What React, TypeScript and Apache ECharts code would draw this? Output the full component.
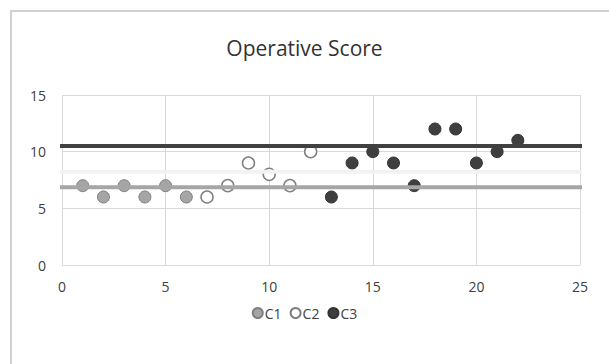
import React, { useEffect, useRef } from "react";
import * as echarts from "echarts";

const c1Data: [number, number][] = [[1, 7], [2, 6], [3, 7], [4, 6], [5, 7], [6, 6]];
const c2Data: [number, number][] = [[7, 6], [8, 7], [9, 9], [10, 8], [11, 7], [12, 10]];
const c3Data: [number, number][] = [[13, 6], [14, 9], [15, 10], [16, 9], [17, 7], [18, 12], [19, 12], [20, 9], [21, 10], [22, 11]];
const refLevels = { c3: 10.5, c2: 8.23, c1: 6.86 };
const refSpan = [-0.48, 25.8];
const legendNames = ["C1", "C2", "C3"];

const FONT = "'Open Sans', 'Liberation Sans', sans-serif";

export default function App() {
  const ref = useRef<HTMLDivElement>(null);
  useEffect(() => {
    if (!ref.current) return;
    const chart = echarts.init(ref.current, null, { renderer: "svg" });
    const refLine = (name: string, y: number, color: string) => ({
      name,
      type: "line",
      data: [[refSpan[0], y], [refSpan[1], y]],
      symbol: "none",
      clip: false,
      lineStyle: { color, width: 4 },
      z: 5,
      silent: true,
    });
    chart.setOption({
      animation: false,
      backgroundColor: "#ffffff",
      title: {
        text: "Operative Score",
        left: "center",
        top: 32,
        textStyle: { fontFamily: FONT, fontSize: 21, fontWeight: "normal", color: "#333333" },
      },
      graphic: [
        {
          type: "rect",
          shape: { x: 11, y: 11, width: 620, height: 380 },
          style: { fill: "none", stroke: "#d0d0d0", lineWidth: 2 },
          z: -1,
        },
      ],
      legend: {
        data: legendNames,
        top: 301,
        left: "center",
        itemWidth: 10,
        itemHeight: 10,
        itemGap: 8,
        textStyle: { fontFamily: FONT, fontSize: 14, color: "#404040", padding: [0, 0, 0, -3] },
      },
      grid: { left: 62, right: 29, top: 95, bottom: 99 },
      xAxis: {
        type: "value",
        min: 0,
        max: 25,
        interval: 5,
        axisLine: { show: false },
        axisTick: { show: false },
        splitLine: { show: true, lineStyle: { color: "#d9d9d9", width: 1 } },
        axisLabel: { fontFamily: FONT, fontSize: 14, color: "#404040", margin: 14 },
      },
      yAxis: {
        type: "value",
        min: 0,
        max: 15,
        interval: 5,
        axisLine: { show: false },
        axisTick: { show: false },
        splitLine: { show: true, lineStyle: { color: "#d9d9d9", width: 1 } },
        axisLabel: { fontFamily: FONT, fontSize: 14, color: "#404040", margin: 16 },
      },
      series: [
        {
          name: "C1",
          type: "scatter",
          data: c1Data,
          symbolSize: 12,
          itemStyle: { color: "#a5a5a5", borderColor: "#7f7f7f", borderWidth: 1, opacity: 1 },
          z: 3,
        },
        {
          name: "C2",
          type: "scatter",
          data: c2Data,
          symbolSize: 12,
          itemStyle: { color: "#ffffff", borderColor: "#7f7f7f", borderWidth: 1.5, opacity: 1 },
          z: 3,
        },
        {
          name: "C3",
          type: "scatter",
          data: c3Data,
          symbolSize: 12,
          itemStyle: { color: "#3f3f3f", borderColor: "#333333", borderWidth: 1, opacity: 1 },
          z: 3,
        },
        refLine("avgC3", refLevels.c3, "#404040"),
        refLine("avgC2", refLevels.c2, "#f2f2f2"),
        refLine("avgC1", refLevels.c1, "#a6a6a6"),
      ],
    });
    return () => chart.dispose();
  }, []);
  return (
    <div
      ref={ref}
      style={{ position: "fixed", left: 0, top: 0, width: 609, height: 364, background: "#fff" }}
    />
  );
}
